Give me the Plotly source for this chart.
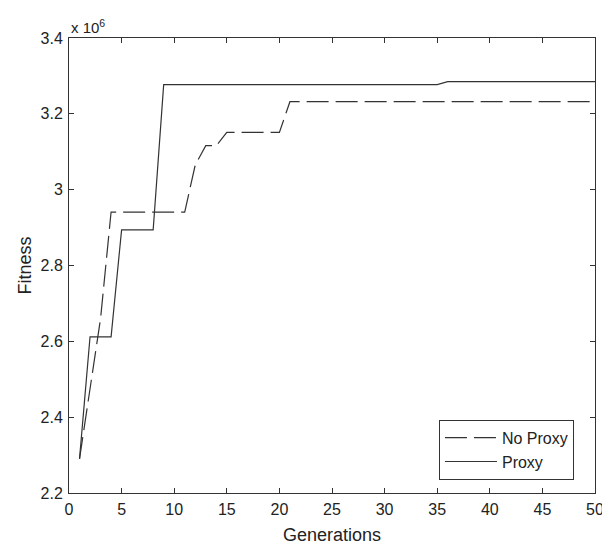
import plotly.graph_objects as go

# Best fitness per generation (in units of 10^6)
generations = list(range(1, 51))

no_proxy = [
    2.290, 2.480, 2.660, 2.941, 2.941, 2.941, 2.941, 2.941, 2.941, 2.941,
    2.941, 3.065, 3.116, 3.116, 3.151, 3.151, 3.151, 3.151, 3.151, 3.151,
    3.232, 3.232, 3.232, 3.232, 3.232, 3.232, 3.232, 3.232, 3.232, 3.232,
    3.232, 3.232, 3.232, 3.232, 3.232, 3.232, 3.232, 3.232, 3.232, 3.232,
    3.232, 3.232, 3.232, 3.232, 3.232, 3.232, 3.232, 3.232, 3.232, 3.232,
]

proxy = [
    2.290, 2.612, 2.612, 2.612, 2.894, 2.894, 2.894, 2.894, 3.277, 3.277,
    3.277, 3.277, 3.277, 3.277, 3.277, 3.277, 3.277, 3.277, 3.277, 3.277,
    3.277, 3.277, 3.277, 3.277, 3.277, 3.277, 3.277, 3.277, 3.277, 3.277,
    3.277, 3.277, 3.277, 3.277, 3.277, 3.285, 3.285, 3.285, 3.285, 3.285,
    3.285, 3.285, 3.285, 3.285, 3.285, 3.285, 3.285, 3.285, 3.285, 3.285,
]

x_ticks = [0, 5, 10, 15, 20, 25, 30, 35, 40, 45, 50]
y_ticks = [2.2, 2.4, 2.6, 2.8, 3.0, 3.2, 3.4]
y_tick_text = ["2.2", "2.4", "2.6", "2.8", "3", "3.2", "3.4"]

INK = "#333333"
TEXT = "#222222"
FONT = "Liberation Sans, Arial, sans-serif"

fig = go.Figure()
fig.add_trace(go.Scatter(
    x=generations, y=no_proxy, mode="lines", name="No Proxy",
    line=dict(color=INK, width=1.2, dash="22px,7px"),
))
fig.add_trace(go.Scatter(
    x=generations, y=proxy, mode="lines", name="Proxy",
    line=dict(color=INK, width=1.2),
))

axis_common = dict(
    showline=True, linecolor=INK, linewidth=1, mirror="ticks",
    ticks="inside", ticklen=5, tickwidth=1, tickcolor=INK,
    showgrid=False, zeroline=False, ticklabeloverflow="allow",
    automargin=False,
    tickfont=dict(family=FONT, size=16, color=TEXT),
)

fig.update_xaxes(
    range=[0, 50], tickvals=x_ticks, ticklabelstandoff=2,
    title=dict(text="Generations", font=dict(family=FONT, size=18, color=TEXT), standoff=12),
    **axis_common,
)
fig.update_yaxes(
    range=[2.2, 3.4], tickvals=y_ticks, ticktext=y_tick_text, ticklabelstandoff=2,
    title=dict(text="Fitness", font=dict(family=FONT, size=18, color=TEXT), standoff=4),
    **axis_common,
)

fig.add_annotation(
    xref="paper", yref="paper", x=0.0, y=1.0, xanchor="left", yanchor="bottom",
    text="x 10<sup>6</sup>", showarrow=False, yshift=0,
    font=dict(family=FONT, size=15, color=TEXT),
)

fig.update_layout(
    width=602, height=545,
    margin=dict(l=69, r=7, t=38, b=52),
    plot_bgcolor="white", paper_bgcolor="white",
    font=dict(family=FONT, color=TEXT),
    legend=dict(
        x=0.96, y=0.029, xanchor="right", yanchor="bottom",
        bgcolor="white", bordercolor=INK, borderwidth=1,
        font=dict(family=FONT, size=16, color=TEXT),
        itemwidth=52, tracegroupgap=0,
    ),
)

fig.write_html("out.html")
